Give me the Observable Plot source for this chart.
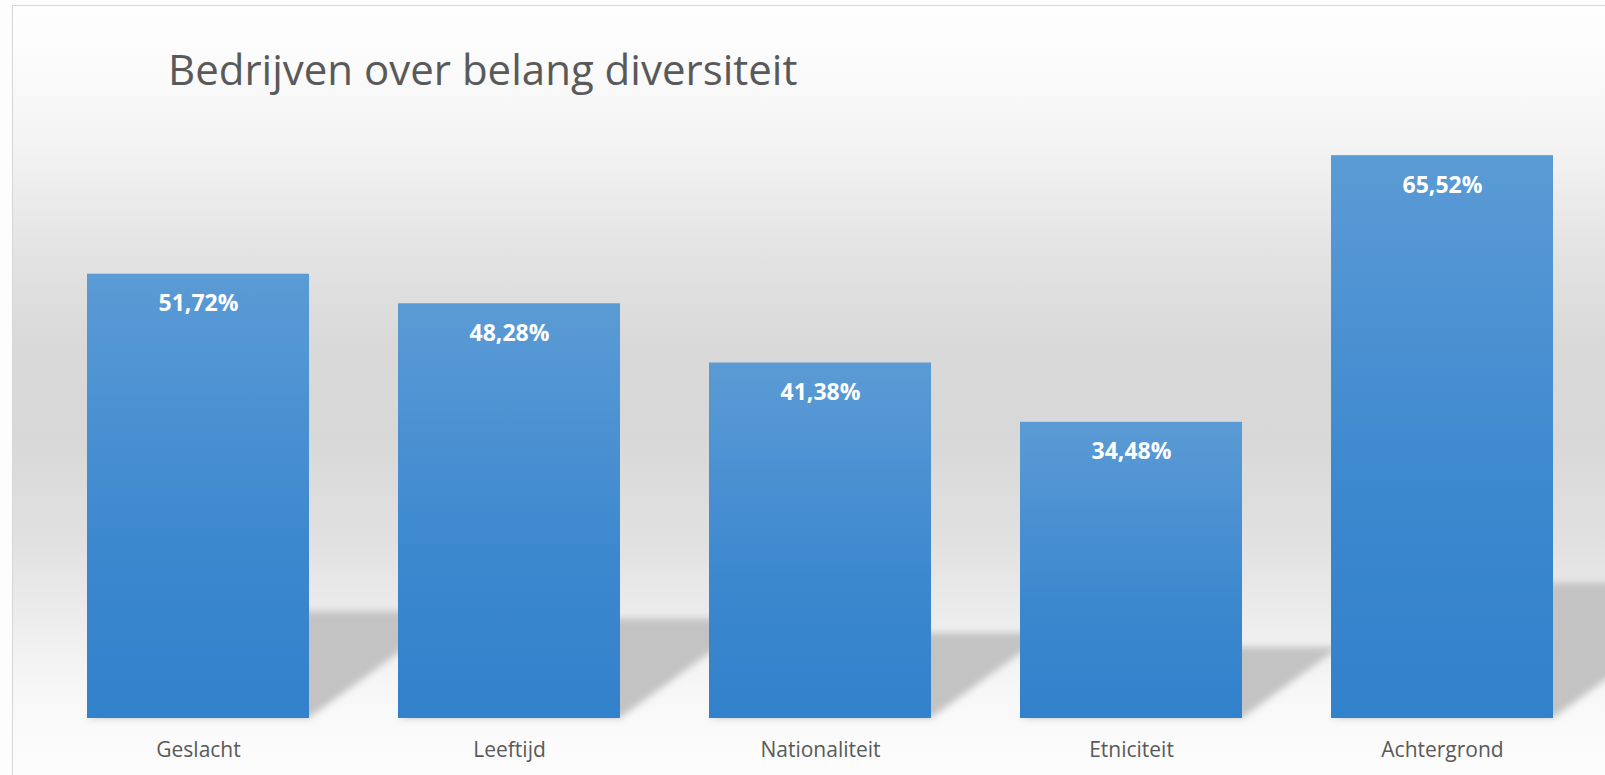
<!DOCTYPE html>
<html><head><meta charset="utf-8">
<script src="https://cdn.jsdelivr.net/npm/d3@7"></script>
<script src="https://cdn.jsdelivr.net/npm/@observablehq/plot@0.6"></script>
<style>
html,body{margin:0;padding:0;overflow:hidden;background:#fdfdfd;}
#wrap{position:relative;width:1605px;height:775px;overflow:hidden;}
#bg{position:absolute;left:12px;top:5px;width:1600px;height:775px;box-sizing:border-box;border-left:1.5px solid #d6d6d6;border-top:1.5px solid #d9d9d9;
background:linear-gradient(to bottom,#fefefe 0px,#fbfbfb 60px,#f3f3f3 140px,#e4e4e4 240px,#d9d9d9 340px,#d8d8d8 430px,#e1e1e1 535px,#efefef 630px,#f7f7f7 685px,#fbfbfb 735px,#fcfcfc 775px);}
#title{position:absolute;left:168px;top:48px;font-family:"Open Sans";font-size:42px;line-height:1;color:#595959;white-space:nowrap;}
#chart{position:absolute;left:0;top:0;}
</style></head>
<body><div id="wrap"><div id="bg"></div><div id="chart"></div><div id="title"></div></div>
<script>
// ---- data ----
const titleText = "Bedrijven over belang diversiteit";
const categories = ["Geslacht", "Leeftijd", "Nationaliteit", "Etniciteit", "Achtergrond"];
const values = [0.5172, 0.4828, 0.4138, 0.3448, 0.6552];

const nl = d3.formatLocale({decimal: ",", thousands: ".", grouping: [3], currency: ["€", ""], percent: "%"});
const fmt = nl.format(".2%");
const data = categories.map((c, i) => ({category: c, value: values[i], label: fmt(values[i])}));

document.getElementById("title").textContent = titleText;

const plot = Plot.plot({
  width: 1605, height: 775,
  marginLeft: 42.5, marginRight: 7.5, marginTop: 116.7, marginBottom: 57,
  style: {background: "transparent", fontFamily: "Open Sans", overflow: "visible"},
  x: {domain: categories, paddingInner: 0.2862, paddingOuter: 0.1431, label: null},
  y: {domain: [0, 0.7], axis: null},
  marks: [
    Plot.barY(data, {x: "category", y: "value", fill: "#c3c3c3", ariaDescription: "shadow"}),
    Plot.barY(data, {x: "category", y: "value", fill: "url(#barGrad)", ariaDescription: "bars"}),
    Plot.text(data, {x: "category", y: "value", text: "label", dy: 29.5, fill: "white", fontWeight: "bold", fontSize: 23}),
    Plot.axisX({tickSize: 0, tickPadding: 24, fontSize: 21, color: "#595959", label: null})
  ]
});
document.getElementById("chart").appendChild(plot);

// defs: bar gradient and shadow blur
const svg = d3.select(plot);
const defs = svg.insert("defs", ":first-child");
const grad = defs.append("linearGradient").attr("id", "barGrad").attr("x1", 0).attr("y1", 0).attr("x2", 0).attr("y2", 1);
grad.append("stop").attr("offset", "0%").attr("stop-color", "#5b9bd5");
grad.append("stop").attr("offset", "60%").attr("stop-color", "#3c88cf");
grad.append("stop").attr("offset", "100%").attr("stop-color", "#3281cb");
defs.append("filter").attr("id", "blur").attr("filterUnits", "userSpaceOnUse")
  .attr("x", -50).attr("y", 0).attr("width", 2000).attr("height", 800)
  .append("feGaussianBlur").attr("stdDeviation", 3.5);

// perspective floor shadow: the shadow bars squashed and sheared about the baseline
const base = plot.scale("y").apply(0);
const k = 0.24, a = 0.329;
const shadow = svg.select('g[aria-description="shadow"]');
shadow.attr("transform", `matrix(1,0,${-a},${k},${a * base},${base * (1 - k)})`);
const wrapper = svg.insert("g", 'g[aria-description="shadow"]').attr("filter", "url(#blur)");
wrapper.node().appendChild(shadow.node());
</script>
</body></html>
